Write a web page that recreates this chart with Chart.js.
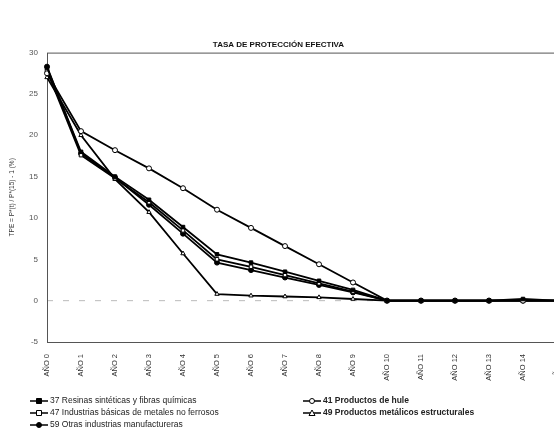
<!DOCTYPE html>
<html>
<head>
<meta charset="utf-8">
<script src="https://cdn.jsdelivr.net/npm/chart.js@4"></script>
<style>
  html, body { margin: 0; padding: 0; background: #fff; overflow: hidden; }
  #wrap { width: 580px; height: 432px; }
</style>
</head>
<body>
<div id="wrap"><canvas id="tpe" width="580" height="432"></canvas></div>
<script>
// años 0..15
const years = ["AÑO 0", "AÑO 1", "AÑO 2", "AÑO 3", "AÑO 4", "AÑO 5", "AÑO 6", "AÑO 7",
    "AÑO 8", "AÑO 9", "AÑO 10", "AÑO 11", "AÑO 12", "AÑO 13", "AÑO 14", "AÑO 15"];

const resinas37 = [28.2, 18.0, 15.0, 12.2, 8.9, 5.6, 4.6, 3.5, 2.4, 1.3, 0, 0, 0, 0, 0.2, 0];
const hule41 = [27.5, 20.5, 18.2, 16.0, 13.6, 11.0, 8.8, 6.6, 4.4, 2.2, 0, 0, 0, 0, 0, 0];
const metales47 = [27.8, 17.6, 14.8, 11.9, 8.5, 5.0, 4.1, 3.1, 2.1, 1.1, 0, 0, 0, 0, 0, 0];
const estructurales49 = [27.0, 20.0, 14.7, 10.7, 5.7, 0.8, 0.6, 0.5, 0.4, 0.2, 0, 0, 0, 0, 0, 0];
const otras59 = [28.3, 17.8, 14.9, 11.6, 8.1, 4.6, 3.7, 2.8, 1.9, 1.0, 0, 0, 0, 0, 0, 0];

const yTicks = [30, 25, 20, 15, 10, 5, 0, -5];

const series = [
    { label: "37 Resinas sintéticas y fibras químicas", data: resinas37, style: "rect", fill: "#000", bold: false, col: 0, row: 0 },
    { label: "41 Productos de hule", data: hule41, style: "circle", fill: "#fff", bold: true, col: 1, row: 0 },
    { label: "47 Industrias básicas de metales no ferrosos", data: metales47, style: "rect", fill: "#fff", bold: false, col: 0, row: 1 },
    { label: "49 Productos metálicos estructurales", data: estructurales49, style: "triangle", fill: "#fff", bold: true, col: 1, row: 1 },
    { label: "59 Otras industrias manufactureras", data: otras59, style: "circle", fill: "#000", bold: false, col: 0, row: 2 }
];

function marker(ctx, style, fill, x, y, r) {
    ctx.save();
    ctx.fillStyle = fill;
    ctx.strokeStyle = "#000";
    ctx.lineWidth = 1;
    ctx.beginPath();
    if (style === "circle") {
        ctx.arc(x, y, r, 0, Math.PI * 2);
    } else if (style === "rect") {
        ctx.rect(x - r, y - r, r * 2, r * 2);
    } else {
        ctx.moveTo(x, y - r - 0.5);
        ctx.lineTo(x + r + 0.5, y + r);
        ctx.lineTo(x - r - 0.5, y + r);
        ctx.closePath();
    }
    ctx.fill();
    ctx.stroke();
    ctx.restore();
}

// caja, línea de cero y leyenda
const extras = {
    id: "extras",
    beforeDatasetsDraw(chart) {
        const { ctx, chartArea } = chart;
        const y0 = chart.scales.y.getPixelForValue(0);
        ctx.save();
        ctx.strokeStyle = "#bbb";
        ctx.lineWidth = 1;
        ctx.setLineDash([6, 10]);
        ctx.beginPath();
        ctx.moveTo(chartArea.left, y0);
        ctx.lineTo(chartArea.right, y0);
        ctx.stroke();
        ctx.setLineDash([]);
        ctx.strokeStyle = "#555";
        ctx.strokeRect(chartArea.left + 0.5, chartArea.top + 0.5, chartArea.right - chartArea.left, chartArea.bottom - chartArea.top);
        ctx.restore();
    },
    afterDraw(chart) {
        const ctx = chart.ctx;
        const colX = [30, 303];
        const rowY = [401, 413, 425];
        ctx.save();
        series.forEach(s => {
            const x = colX[s.col], y = rowY[s.row];
            ctx.strokeStyle = "#000";
            ctx.lineWidth = 1.5;
            ctx.beginPath();
            ctx.moveTo(x, y);
            ctx.lineTo(x + 18, y);
            ctx.stroke();
            marker(ctx, s.style, s.fill, x + 9, y, 2.5);
            ctx.fillStyle = "#222";
            ctx.font = (s.bold ? "bold " : "") + "8.5px 'Liberation Sans', Arial, sans-serif";
            ctx.textBaseline = "middle";
            ctx.fillText(s.label, x + 20, y);
        });
        ctx.restore();
    }
};

const ctx = document.getElementById("tpe").getContext("2d");
new Chart(ctx, {
    type: "line",
    data: {
        labels: years,
        datasets: series.map(s => ({
            label: s.label,
            data: s.data,
            borderColor: "#000",
            borderWidth: 1.8,
            pointStyle: s.style,
            pointRadius: 2.5,
            pointBorderWidth: 1,
            pointBorderColor: "#000",
            pointBackgroundColor: s.fill,
            tension: 0
        }))
    },
    options: {
        responsive: false,
        animation: false,
        layout: { padding: { left: 0, right: 23, top: 0, bottom: 0 } },
        plugins: {
            legend: { display: false },
            tooltip: { enabled: false },
            title: {
                display: true,
                text: "TASA DE PROTECCIÓN EFECTIVA",
                color: "#111",
                font: { family: "'Liberation Sans', Arial, sans-serif", size: 8, weight: "bold" },
                padding: { top: 40, bottom: 3 }
            }
        },
        scales: {
            x: {
                offset: false,
                grid: { display: false },
                border: { display: false },
                ticks: {
                    color: "#333",
                    font: { family: "'Liberation Sans', Arial, sans-serif", size: 7.5 },
                    minRotation: 90,
                    maxRotation: 90,
                    autoSkip: false,
                    padding: 4
                },
                afterFit(scale) { scale.height = 90; }
            },
            y: {
                min: -5,
                max: 30,
                grid: { display: false },
                border: { display: false },
                afterBuildTicks(scale) { scale.ticks = yTicks.map(v => ({ value: v })); },
                ticks: {
                    color: "#555",
                    font: { family: "'Liberation Sans', Arial, sans-serif", size: 8 },
                    padding: 1
                },
                title: {
                    display: true,
                    text: "TPE = P*(t) / P*(15) - 1 (%)",
                    color: "#333",
                    font: { family: "'Liberation Sans', Arial, sans-serif", size: 6.5 },
                    padding: { top: 8, bottom: 0 }
                },
                afterFit(scale) { scale.width = 47; }
            }
        }
    },
    plugins: [extras]
});
</script>
</body>
</html>
